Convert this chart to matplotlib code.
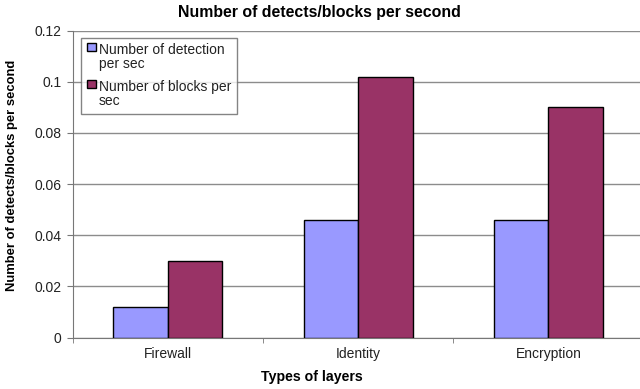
import numpy as np
import matplotlib.pyplot as plt

plt.rcParams['font.family'] = ['Liberation Sans', 'DejaVu Sans']

layers = ["Firewall", "Identity", "Encryption"]
detections = [0.012, 0.046, 0.046]
blocks = [0.030, 0.102, 0.090]

W, H = 640, 389
fig = plt.figure(figsize=(W / 100, H / 100), dpi=100)
# plot area runs a few pixels past the right edge of the figure
ax = fig.add_axes([72.7 / W, (H - 337.5) / H, (643.5 - 72.7) / W, 307 / H])

x = np.arange(len(layers))
w = 0.286
ax.bar(x - w / 2, detections, w, color="#9999FF", edgecolor="black", linewidth=1,
       label="Number of detection\nper sec", zorder=3)
ax.bar(x + w / 2, blocks, w, color="#993366", edgecolor="black", linewidth=1,
       label="Number of blocks per\nsec", zorder=3)

ax.set_ylim(0, 0.12)
ax.set_xlim(-0.5, 2.5)
ax.set_yticks([0, 0.02, 0.04, 0.06, 0.08, 0.1, 0.12])
ax.set_yticklabels(["0", "0.02", "0.04", "0.06", "0.08", "0.1", "0.12"])
ax.set_xticks(x)
ax.set_xticklabels(layers)
ax.set_xticks([-0.5, 0.5, 1.5], minor=True)
ax.tick_params(axis="x", which="major", length=0, pad=7, labelsize=10, labelcolor="#222222")
ax.tick_params(axis="x", which="minor", length=3.5, color="#777777")
ax.tick_params(axis="y", length=4.3, pad=4, color="#777777", labelsize=10, labelcolor="#222222")
ax.grid(axis="y", color="#8c8c8c", linewidth=1, zorder=0)

for side in ["top", "right"]:
    ax.spines[side].set_visible(False)
for side in ["left", "bottom"]:
    ax.spines[side].set_color("#777777")

fig.text(319 / W, 1 - 13 / H, "Number of detects/blocks per second",
         fontsize=11.4, fontweight="bold", ha="center", va="center")

ax.set_xlabel("Types of layers", fontsize=10.2, fontweight="bold", va="center")
ax.xaxis.set_label_coords(0.419, (337.5 - 377) / 307)
ax.set_ylabel("Number of detects/blocks per second", fontsize=9.4, fontweight="bold", va="center")
ax.yaxis.set_label_coords((12 - 72.7) / 570.8, 0.528)

leg = ax.legend(loc="upper left", bbox_to_anchor=(0.0145, 0.9765), fontsize=10,
                frameon=True, fancybox=False, edgecolor="#666666",
                handlelength=0.7, handleheight=0.5, handletextpad=0.2,
                borderpad=0.4, labelspacing=0.65, borderaxespad=0)
leg.get_frame().set_linewidth(1)
for t in leg.get_texts():
    t.set_linespacing(1.0)
    t.set_color("#222222")
# put each swatch beside the first line of its label
for row in leg._legend_handle_box.get_children()[0].get_children():
    row.align = "top"

fig.savefig("out.png", dpi=100)
